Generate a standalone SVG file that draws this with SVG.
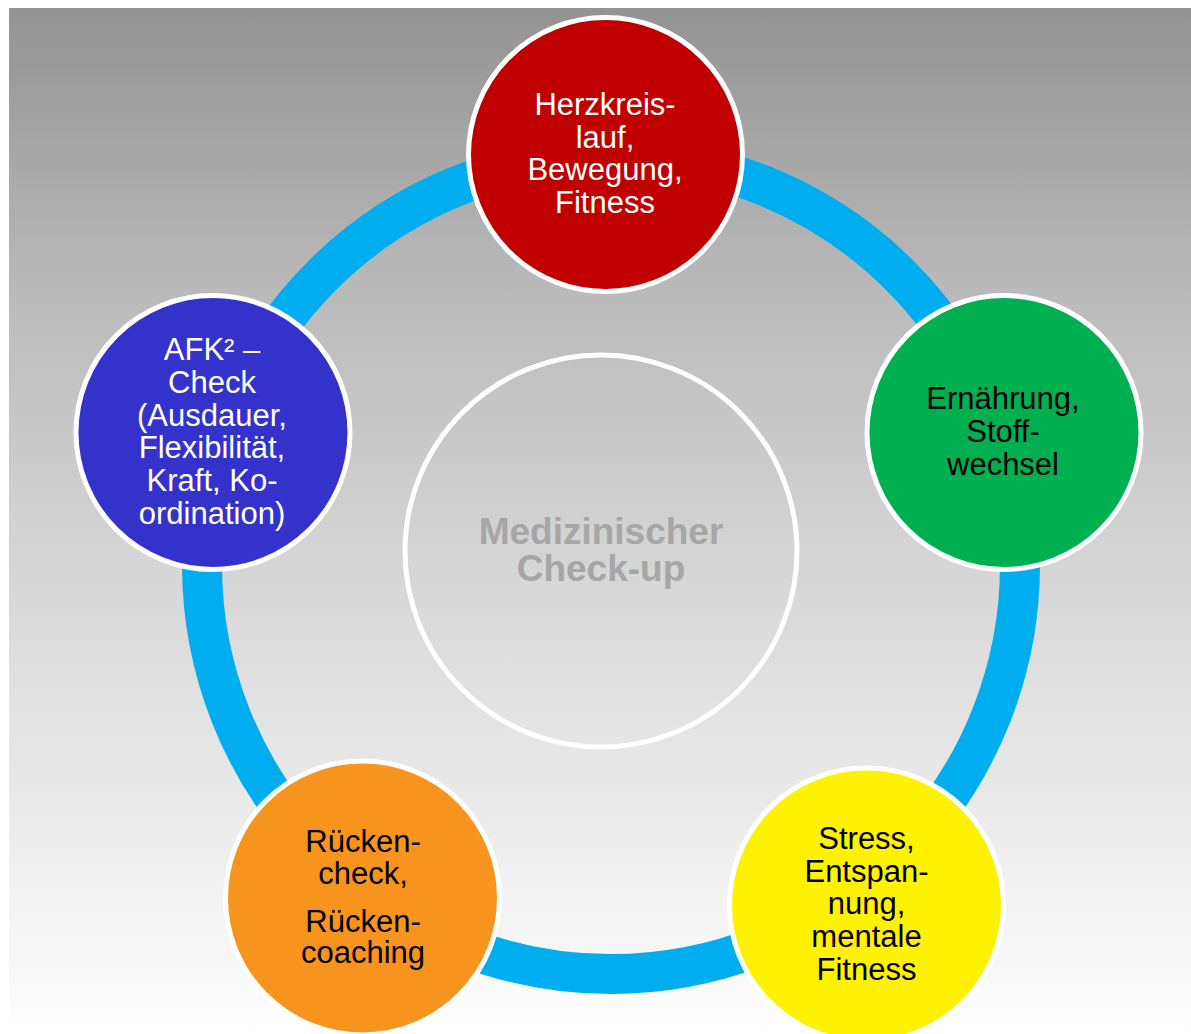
<svg xmlns="http://www.w3.org/2000/svg" width="1191" height="1034" viewBox="0 0 1191 1034">
<defs>
<linearGradient id="bg" x1="0" y1="0" x2="0" y2="1">
<stop offset="0" stop-color="#939393"/>
<stop offset="0.285" stop-color="#BBBBBB"/>
<stop offset="0.577" stop-color="#D9D9D9"/>
<stop offset="0.9" stop-color="#F5F5F5"/>
<stop offset="1" stop-color="#FFFFFF"/>
</linearGradient>
<style>
.node{stroke:#FFFFFF;stroke-width:5}
.t{font-family:"Liberation Sans",Arial,sans-serif;font-size:31px;text-anchor:middle}
.w{fill:#FFFFFF}
.b{fill:#000000}
.c{font-family:"Liberation Sans",Arial,sans-serif;font-size:37px;font-weight:bold;fill:#A6A6A6;text-anchor:middle}
</style>
</defs>
<rect x="9" y="8" width="1182" height="1026" fill="url(#bg)"/>
<g id="connectors">
<circle cx="611" cy="565" r="409" fill="none" stroke="#00AEEF" stroke-width="40"/>
</g>
<g id="center">
<circle cx="601" cy="551" r="196" fill="none" stroke="#FFFFFF" stroke-width="5"/>
<text class="c" x="601" y="544">Medizinischer</text>
<text class="c" x="601" y="581">Check-up</text>
</g>
<g id="herzkreislauf">
<circle class="node" cx="605.5" cy="154.5" r="137" fill="#C00000"/>
<text class="t w" x="605" y="115">Herzkreis-</text>
<text class="t w" x="605" y="147.5">lauf,</text>
<text class="t w" x="605" y="180">Bewegung,</text>
<text class="t w" x="605" y="212.5">Fitness</text>
</g>
<g id="ernaehrung">
<circle class="node" cx="1004" cy="432.5" r="137" fill="#00B050"/>
<text class="t b" x="1003" y="409">Ernährung,</text>
<text class="t b" x="1003" y="442">Stoff-</text>
<text class="t b" x="1003" y="475">wechsel</text>
</g>
<g id="stress">
<circle class="node" cx="866.5" cy="905" r="137" fill="#FFF200"/>
<text class="t b" x="866.5" y="848.5">Stress,</text>
<text class="t b" x="866.5" y="881.5">Entspan-</text>
<text class="t b" x="866.5" y="913.5">nung,</text>
<text class="t b" x="866.5" y="946.5">mentale</text>
<text class="t b" x="866.5" y="980">Fitness</text>
</g>
<g id="ruecken">
<circle class="node" cx="362.5" cy="898" r="137" fill="#F7941E"/>
<text class="t b" x="363" y="851.5">Rücken-</text>
<text class="t b" x="363" y="884">check,</text>
<text class="t b" x="363" y="931.5">Rücken-</text>
<text class="t b" x="363" y="963">coaching</text>
</g>
<g id="afk">
<circle class="node" cx="213" cy="432.5" r="137" fill="#3333CC"/>
<text class="t w" x="212" y="360">AFK² –</text>
<text class="t w" x="212" y="393">Check</text>
<text class="t w" x="212" y="425.5">(Ausdauer,</text>
<text class="t w" x="212" y="458">Flexibilität,</text>
<text class="t w" x="212" y="490.5">Kraft, Ko-</text>
<text class="t w" x="212" y="523.5">ordination)</text>
</g>
</svg>
